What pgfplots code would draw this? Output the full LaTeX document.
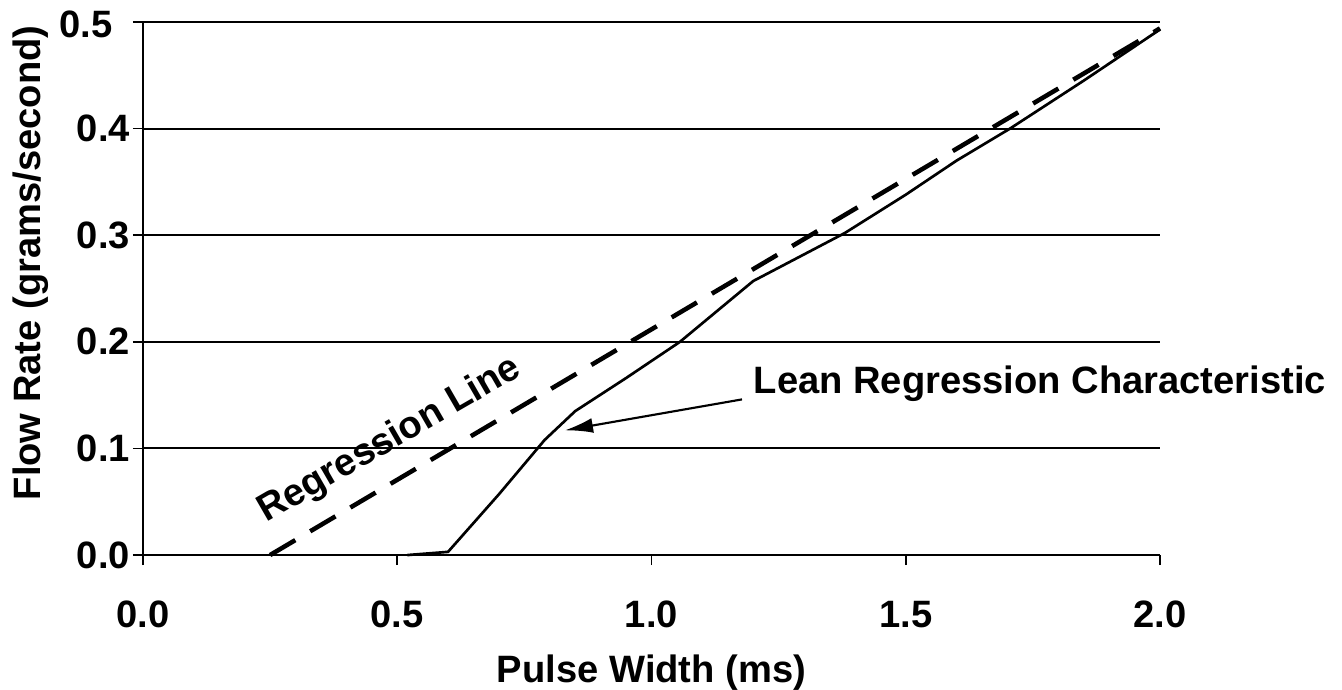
\documentclass[border=0pt]{standalone}
\usepackage{pgfplots}
\pgfplotsset{compat=1.18}
\usetikzlibrary{arrows.meta,calc}
\usepackage{fontspec}
\setmainfont{Liberation Sans}
\newcommand{\chartfont}{\fontsize{14.3}{16}\selectfont\bfseries}

% measured flow characteristic of the injector
\pgfplotstableread{
pw    flow
0.52  0.000
0.60  0.003
0.70  0.057
0.79  0.108
0.85  0.135
0.95  0.166
1.056 0.200
1.20  0.257
1.38  0.302
1.50  0.338
1.60  0.370
1.705 0.400
1.85  0.445
2.00  0.493
}\leancurve

% linear regression of the flow data
\pgfplotstableread{
pw    flow
0.25  0.000
2.00  0.494
}\regline

\begin{document}
\begin{tikzpicture}
\begin{axis}[
  scale only axis,
  width=381.4pt, height=199.9pt,
  xmin=0, xmax=2, ymin=0, ymax=0.5,
  axis lines=left,
  axis line style={-, line width=0.8pt},
  xtick={0,0.5,...,2.0},
  ytick={0,0.1,0.2,0.3,0.4},
  extra y ticks={0.5},
  extra y tick style={yticklabel style={xshift=-6.5pt, yshift=-0.8pt}},
  tick align=outside,
  major tick length=3.75pt,
  tick style={black, line width=0.6pt},
  xticklabel style={yshift=-10pt},
  yticklabel style={xshift=2.4pt},
  /pgf/number format/assume math mode=true,
  /pgf/number format/.cd, fixed, fixed zerofill, precision=1, /pgfplots/.cd,
  ymajorgrids,
  major grid style={black, line width=0.75pt},
  tick label style={font=\chartfont},
  label style={font=\chartfont},
  xlabel={Pulse Width (ms)},
  ylabel={Flow Rate (grams/second)},
  xlabel style={yshift=-3pt},
  ylabel style={at={(axis description cs:-0.110,0.548)}, anchor=center},
  clip=false,
]
\addplot[black, line width=1.7pt, dash pattern=on 11pt off 6.5pt] table[x=pw, y=flow] {\regline};
\addplot[black, line width=1pt] table[x=pw, y=flow] {\leancurve};
\node[rotate=30, anchor=base west, inner sep=0pt, font=\chartfont]
  at (axis cs:0.242,0.030) {Regression Line};
\node[anchor=base west, inner sep=0pt, font=\chartfont]
  at (axis cs:1.2,0.152) {Lean Regression Characteristic};
\draw[black, line width=0.8pt, -{Latex[length=10.5pt,width=5.6pt]}]
  (axis cs:1.178,0.146) -- (axis cs:0.83,0.117);
\end{axis}
\pgfresetboundingbox
\useasboundingbox ($(current axis.south west)+(-53.6pt,-50.6pt)$) rectangle ++(503.25pt,258.75pt);
\end{tikzpicture}
\end{document}
